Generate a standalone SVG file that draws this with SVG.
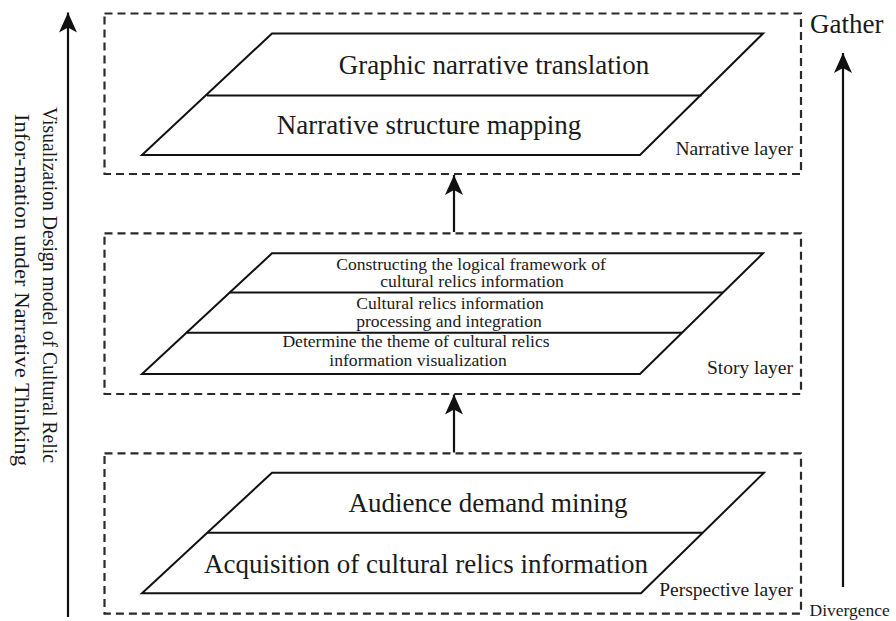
<svg xmlns="http://www.w3.org/2000/svg" width="896" height="621" viewBox="0 0 896 621">
<defs>
<style>
text{font-family:"Liberation Serif","Times New Roman",serif;fill:#1a1a1a}
.box{fill:none;stroke:#2a2a2a;stroke-width:2.2;stroke-dasharray:8 5}
.band{fill:#fff;stroke:#111;stroke-width:2}
.sep{stroke:#111;stroke-width:2;fill:none}
.big{font-size:27px;text-anchor:middle}
.mid{font-size:17.6px;text-anchor:middle}
.lbl{font-size:19.5px;text-anchor:end}
.arr{stroke:#111;stroke-width:2.2;fill:none;marker-end:url(#ah)}
</style>
<marker id="ah" viewBox="0 0 20 18" refX="20" refY="9" markerWidth="20" markerHeight="18" markerUnits="userSpaceOnUse" orient="auto">
<path d="M0,0 L20,9 L0,18 L5,9 Z" fill="#111"/>
</marker>
</defs>
<rect width="896" height="621" fill="#fff"/>

<g id="narrative-layer">
<rect class="box" x="104.5" y="13.5" width="696.5" height="160.5"/>
<g id="narrative-band">
<polygon class="band" points="272,33.5 763,33.5 640,155 142,155"/>
<line class="sep" x1="207" y1="95.5" x2="701.5" y2="95.5"/>
<text class="big" x="494" y="74">Graphic narrative translation</text>
<text class="big" x="429" y="133.5">Narrative structure mapping</text>
</g>
<text class="lbl" x="793" y="155">Narrative layer</text>
</g>

<g id="story-layer">
<rect class="box" x="104.5" y="233.3" width="696.5" height="160.7"/>
<g id="story-band">
<polygon class="band" points="272,253.3 763,253.3 640,374 142,374"/>
<line class="sep" x1="229.8" y1="292.5" x2="723" y2="292.5"/>
<line class="sep" x1="186.5" y1="332.7" x2="682.1" y2="332.7"/>
<text class="mid" x="471" y="270">Constructing the logical framework of</text>
<text class="mid" x="472" y="287.3">cultural relics information</text>
<text class="mid" x="450" y="309">Cultural relics information</text>
<text class="mid" x="449" y="326.5">processing and integration</text>
<text class="mid" x="416" y="347">Determine the theme of cultural relics</text>
<text class="mid" x="418" y="366">information visualization</text>
</g>
<text class="lbl" x="793" y="374">Story layer</text>
</g>

<g id="perspective-layer">
<rect class="box" x="104.5" y="453.3" width="696.5" height="160.4"/>
<g id="perspective-band">
<polygon class="band" points="272,472.7 764,472.7 641,593.3 142,593.3"/>
<line class="sep" x1="207.3" y1="532.7" x2="702.8" y2="532.7"/>
<text class="big" x="488" y="511.7">Audience demand mining</text>
<text class="big" x="426" y="572.7">Acquisition of cultural relics information</text>
</g>
<text class="lbl" x="793" y="596">Perspective layer</text>
</g>

<g id="axis-left">
<text font-size="21.5" transform="translate(43,107) rotate(90)" textLength="356" lengthAdjust="spacingAndGlyphs">Visualization Design model  of Cultural Relic</text>
<text font-size="21.5" transform="translate(15,114) rotate(90)" textLength="352" lengthAdjust="spacingAndGlyphs">Infor-mation under Narrative Thinking</text>
</g>

<g id="axis-right">
<text font-size="27" x="810" y="33">Gather</text>
<text font-size="17.5" x="809.5" y="616">Divergence</text>
</g>

<g id="connectors">
<line class="arr" x1="68" y1="617" x2="68" y2="12.5"/>
<line class="arr" x1="843" y1="587" x2="843" y2="53"/>
<line class="arr" x1="454" y1="232" x2="454" y2="175"/>
<line class="arr" x1="454" y1="452.5" x2="454" y2="394.5"/>
</g>
</svg>
